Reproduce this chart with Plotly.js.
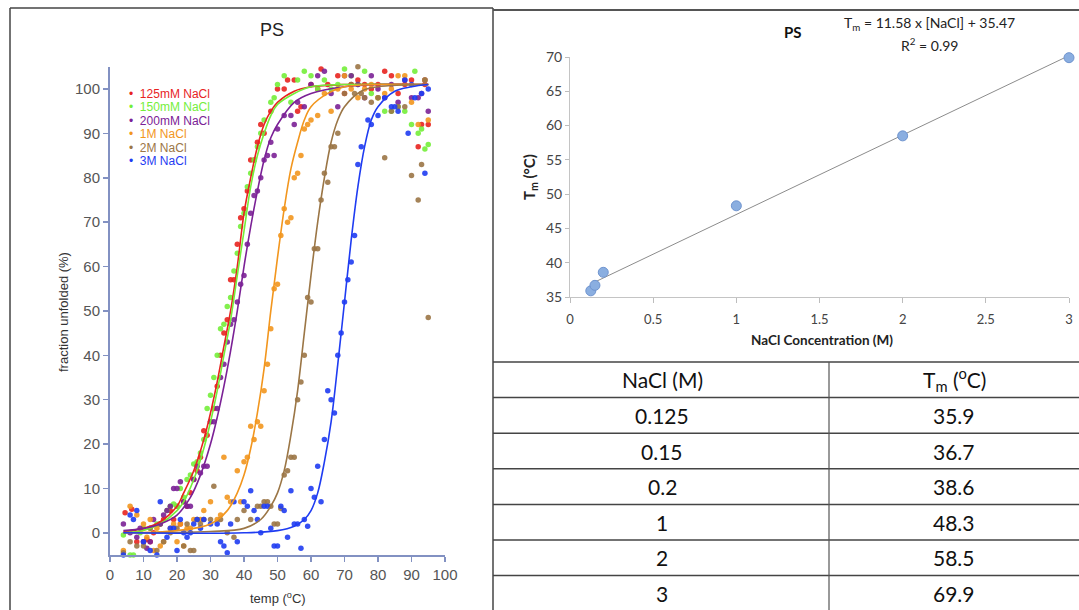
<!DOCTYPE html>
<html>
<head>
<meta charset="utf-8">
<script src="https://cdn.plot.ly/plotly-3.0.1.min.js"></script>
<style>html,body{margin:0;padding:0;background:#fff;}#chart{width:1079px;height:610px;}</style>
</head>
<body>
<div id="chart"></div>
<script>
// ---------- Left panel: melting curves ----------
const seriesNames = ["125mM NaCl", "150mM NaCl", "200mM NaCl", "1M NaCl", "2M NaCl", "3M NaCl"];

const redX = [4.5,6.5,8,10,11,12,13,15,16,18,19,20,21,22,23,24,25,26,27,28,29,30,31,32,33,34,35,36,37,38,39,40,41,42,43,44,45,46,48,50,52,53,55,56,57,60,62,63,65,68,70,72,74,76,78,80,82,84,86,88,90,92,93,94,95];
const redY = [4.5,5.3,-2,-2,-1.5,-2,0,2,3,5,3,6,2,7,6,9,12,14,17,23,22,25,28,33,40,45,48,57,57,65,71,73,77,84,84,88,92,90,95,100,100,102,102,95,96,101,100,104.5,101,103,99,101,102,101,100,101,104,103,99,101,102,87,92,101,92];

const greenX = [4,6,7,8,9,10,12,14,15,17,18,19,20,21,22,23,24,25,26,27,28,29,30,31,32,33,34,35,36,37,38,39,40,41,42,43,44,45,46,48,49,50,52,54,56,58,60,62,64,66,68,70,72,74,76,78,80,82,84,86,88,90,91,92,93,94,95];
const greenY = [-0.5,-5,-5,-5.3,0,1,1,2,2,5,6,6.5,6,10,8,12,13,15.5,16,18,21,28,31,35,40,46,47,51,53,59,63,69,72,78,81,84,87,90,93,97,98,101,103,97,102,104,103,100,102,100,101,104.5,103,101,104,99,98,95,95,96,95,92,104,90,91,86.5,87.5];

const purpleX = [4,6,8,9,10,11,12,13,15,16,17,18,19,20,21,22,23,24,25,26,27,28,29,30,31,32,33,34,35,36,37,38,39,40,41,42,43,44,45,46,47,48,49,50,52,54,55,56,58,60,62,64,66,68,70,72,74,76,78,80,82,84,86,88,90,92,93,94,95];
const purpleY = [2,0,-1,1,-2,-3.5,-2,3,2,4,5,6,10,10,11.5,7,6,6,12,15,13.5,15,15,25,25,28,35,38,43,47,48,52,56,58,65,72,76,77,80,84,85,88,85,91,94,94,92,97,96,101,103,104,99,96,103,103,101,98,103,100,98,101,97,102,98,98,99,102,95];

const orangeX = [4,6,8,10,11,12,13,14,15,16,18,19,20,21,22,23,24,25,26,27,28,30,32,33,34,35,36,38,39,40,41,42,43,44,45,46,47,48,49,50,51,52,53,54,55,56,57,58,59,60,62,64,66,68,70,72,74,76,78,80,82,84,86,88,90,92,94,95];
const orangeY = [-4,6,4,2,-1,3,-4,1,-3,-2,1,2,-2,2,-3,1,1,3,3,3,5,7,3,4,17,8,7,14,7,16,17,24,21,25,24,32,38,46,55,56,67,73,70,71,80,81,85,91,92,93,94,99,95,100,103,100,98,100,101,98,99,100,103,103,97,92,102,93];

const brownX = [4,6,8,10,12,14,16,18,20,22,23,24,25,26,27,28,30,31,33,35,37,38,40,42,44,45,46,47,48,49,50,51,52,53,54,55,56,57,58,59,60,61,62,63,64,65,66,67,68,70,72,73,74,75,76,78,80,82,84,86,88,90,92,93,94,95];
const brownY = [-4.5,-2,-3,-3,1,-4,-2,0,1,-3,2,-4,-4,3,2,3,3,10.5,3,0,-1,3,5,3,6,6,7,7,6,2,2,5.5,13,14,17,17,30,34,40,53,52,64,64,75,81,79,87,87,90,99,101,99,105,99,98,97,98,84.5,95,96,96,80.5,75,83,102,48.5];

const blueX = [4,6,7,8,10,12,14,15,17,18,19,20,21,22,23,24,25,26,27,28,30,32,33,34,35,36,37,38,40,41,42,43,44,45,46,47,48,49,50,51,52,53,54,55,56,57,58,59,60,61,62,63,64,65,66,67,68,69,70,71,72,73,74,75,77,78,80,82,84,85,86,88,89,90,91,93,94,95];
const blueY = [-5,4,3,5,-2,-4,-5,7,-1,1,1,-4,3,0,-1,0,2,3,1,3,2,2,-2,-3,-4.5,2,7,-2,7,6,9.5,5,3,0,6,6,1,-3,-3,6,5,-1,9.5,2,2,-3.5,3,1.5,10,8,15,7,21,32,30,27,40,45,52,57,61,67,83,87,93,92,94,98,96,96,95,102,90,101,98,99,81,100];

// fitted curves
const redFitX = [4,10,15,20,22,25,28,30,32,34,36,38,40,42,44,46,48,50,55,60,70,95];
const redFitY = [0.3,1,2.5,6,9,14,21,27,34,42,50,60,72,80,87,92,95,97,99.5,100.5,101,101];
const greenFitX = [4,10,15,20,22,25,28,30,32,34,36,38,40,42,44,46,48,50,55,60,70,95];
const greenFitY = [0,0.5,2,5,7,12,19,25,32,40,48,58,68,78,85,90,94,96.5,99,100.5,101,101];
const purpleFitX = [4,10,15,20,24,27,30,32,34,36,38,40,42,44,46,48,50,55,60,70,80,95];
const purpleFitY = [0.5,1,2,4,8,13,20,26,33,41,50,60,69,77,84,89,92,97,99,100.5,101,101];
const orangeFitX = [4,20,30,35,38,40,42,44,46,48,50,52,54,56,58,60,65,70,80,95];
const orangeFitY = [0,0.5,2,5,9,13,19,27,37,50,62,73,82,88,93,96,99,100.5,101,101];
const brownFitX = [4,30,40,45,48,50,52,54,56,58,60,62,64,66,68,70,75,80,95];
const brownFitY = [0,0.3,1,3,6,9,14,22,32,45,58,70,80,88,93,96,99.5,100.5,101];
const blueFitX = [4,40,50,55,58,60,62,64,66,68,70,72,74,76,78,80,85,90,95];
const blueFitY = [0,0,0.5,1.5,3,5,9,16,25,38,52,66,78,87,93,96,99.5,100.5,101];

const leftXTicks = [0,10,20,30,40,50,60,70,80,90,100];
const leftYTicks = [0,10,20,30,40,50,60,70,80,90,100];

// ---------- Right panel: Tm vs NaCl ----------
const naclM = [0.125, 0.15, 0.2, 1, 2, 3];
const tmC = [35.9, 36.7, 38.6, 48.3, 58.5, 69.9];
const trendX = [0.125, 3];
const trendY = [36.9, 70.2];
const rightXTicks = [0, 0.5, 1, 1.5, 2, 2.5, 3];
const rightXTickText = ["0", "0.5", "1", "1.5", "2", "2.5", "3"];
const rightYTicks = [35, 40, 45, 50, 55, 60, 65, 70];
const naclLabels = ["0.125", "0.15", "0.2", "1", "2", "3"];
const tmLabels = ["35.9", "36.7", "38.6", "48.3", "58.5", "69.9"];

// ---------- build ----------
const W = 1079, H = 610;
const px = v => v / W;
const py = v => 1 - v / H;

const colors = ["#e8231f", "#74ee3a", "#7b2196", "#f2961e", "#9b7646", "#1f3cf2"];
const ptsX = [redX, greenX, purpleX, orangeX, brownX, blueX];
const ptsY = [redY, greenY, purpleY, orangeY, brownY, blueY];
const fitX = [redFitX, greenFitX, purpleFitX, orangeFitX, brownFitX, blueFitX];
const fitY = [redFitY, greenFitY, purpleFitY, orangeFitY, brownFitY, blueFitY];

const traces = [];
for (let i = 0; i < 6; i++) {
  traces.push({
    type: "scatter", mode: "markers", x: ptsX[i], y: ptsY[i], xaxis: "x", yaxis: "y",
    name: seriesNames[i], cliponaxis: false,
    marker: { color: colors[i], size: 5.5, opacity: 0.9 }, hoverinfo: "x+y"
  });
}
for (let i = 0; i < 6; i++) {
  traces.push({
    type: "scatter", mode: "lines", x: fitX[i], y: fitY[i], xaxis: "x", yaxis: "y",
    line: { color: colors[i], width: 1.6, shape: "spline", smoothing: 1 }, showlegend: false, hoverinfo: "skip"
  });
}
traces.push({
  type: "scatter", mode: "lines", x: trendX, y: trendY, xaxis: "x2", yaxis: "y2",
  line: { color: "#8c8c8c", width: 1 }, hoverinfo: "skip"
});
traces.push({
  type: "scatter", mode: "markers", x: naclM, y: tmC, xaxis: "x2", yaxis: "y2", cliponaxis: false,
  marker: { color: "#8aaee0", size: 10, line: { color: "#6f94cf", width: 1 } }
});

const leftFont = "Liberation Sans, Arial, sans-serif";
const rightFont = "Lato, Open Sans, sans-serif";
const axisBlue = "#8291c2";

const annotations = [];
function ann(x, y, text, opts) {
  annotations.push(Object.assign({
    xref: "paper", yref: "paper", x: px(x), y: py(y), text: text, showarrow: false,
    xanchor: "center", yanchor: "middle"
  }, opts || {}));
}
// left titles
ann(272, 30, "PS", { font: { family: leftFont, size: 18, color: "#222" } });
ann(63, 312, "fraction unfolded (%)", { textangle: -90, font: { family: leftFont, size: 13, color: "#333" } });
ann(278, 598, "temp (<sup>o</sup>C)", { font: { family: leftFont, size: 13, color: "#333" } });
// left legend
const legendY0 = 94, legendDy = 13.4;
for (let i = 0; i < 6; i++) {
  ann(127, legendY0 + i * legendDy, "\u2022  " + seriesNames[i],
      { xanchor: "left", font: { family: leftFont, size: 12, color: colors[i] } });
}
// right titles
ann(793, 32, "<b>PS</b>", { font: { family: rightFont, size: 15, color: "#111" } });
ann(929, 24, "T<sub>m</sub> = 11.58 x [NaCl] + 35.47", { font: { family: rightFont, size: 14, color: "#222" } });
ann(929, 45, "R<sup>2</sup> = 0.99", { font: { family: rightFont, size: 14, color: "#222" } });
ann(530, 177, "<b>T<sub>m</sub> (°C)</b>", { textangle: -90, font: { family: rightFont, size: 15, color: "#222" } });
ann(822, 340, "<b>NaCl Concentration (M)</b>", { font: { family: rightFont, size: 13.5, color: "#222" } });
// table
const tableTop = 362, rowH = 35.6;
const col1 = 662, col2 = 954;
const tFont = { family: rightFont, size: 21, color: "#111" };
ann(col1, tableTop + rowH / 2, "NaCl (M)", { font: tFont });
ann(col2, tableTop + rowH / 2, "T<sub>m</sub> (<sup>o</sup>C)", { font: tFont });
for (let r = 0; r < naclLabels.length; r++) {
  const cy = tableTop + rowH * (r + 1.5);
  ann(col1, cy, naclLabels[r], { font: tFont });
  ann(col2, cy, tmLabels[r], { font: tFont });
}

const shapes = [];
function line(x0, y0, x1, y1, color, width) {
  shapes.push({ type: "line", xref: "paper", yref: "paper", x0: px(x0), y0: py(y0), x1: px(x1), y1: py(y1),
    line: { color: color, width: width } });
}
// left panel box
line(10, 8, 493, 8, "#444", 1.5);
line(10, 8, 10, 612, "#444", 1.5);
line(493, 8, 493, 612, "#444", 1.5);
// right panel top
line(493, 10, 1079, 10, "#555", 2);
// table lines
for (let r = 0; r <= 7; r++) {
  line(493, tableTop + r * rowH, 1079, tableTop + r * rowH, "#444", 1.5);
}
line(829, tableTop, 829, 612, "#555", 1.2);

const layout = {
  width: W, height: H, margin: { l: 0, r: 0, t: 0, b: 0 },
  paper_bgcolor: "#fff", plot_bgcolor: "#fff", showlegend: false,
  xaxis: {
    domain: [px(110), px(445)], range: [0, 100], tickvals: leftXTicks, ticks: "outside", ticklen: 5,
    tickcolor: axisBlue, tickwidth: 1.5, showline: true, linecolor: axisBlue, linewidth: 2,
    showgrid: false, zeroline: false, anchor: "y",
    tickfont: { family: leftFont, size: 15, color: "#555" }
  },
  yaxis: {
    domain: [py(555), py(66.8)], range: [-5, 105], tickvals: leftYTicks, ticks: "outside", ticklen: 5,
    tickcolor: axisBlue, tickwidth: 1.5, showline: true, linecolor: axisBlue, linewidth: 2,
    showgrid: false, zeroline: false, anchor: "x",
    tickfont: { family: leftFont, size: 15, color: "#555" }
  },
  xaxis2: {
    domain: [px(570), px(1069)], range: [0, 3], tickvals: rightXTicks, ticktext: rightXTickText,
    ticks: "outside", ticklen: 5, tickcolor: "#bdbdbd", showline: true, linecolor: "#c4c4c4", linewidth: 1,
    showgrid: false, zeroline: false, anchor: "y2", ticklabelstandoff: 5,
    tickfont: { family: rightFont, size: 13, color: "#444" }
  },
  yaxis2: {
    domain: [py(297), py(57)], range: [35, 70], tickvals: rightYTicks,
    ticks: "outside", ticklen: 4, tickcolor: "#bdbdbd", showline: true, linecolor: "#c4c4c4", linewidth: 1,
    showgrid: false, zeroline: false, anchor: "x2",
    tickfont: { family: rightFont, size: 14, color: "#444" }
  },
  annotations: annotations,
  shapes: shapes
};

Plotly.newPlot("chart", traces, layout, { displayModeBar: false, staticPlot: true });
</script>
</body>
</html>
